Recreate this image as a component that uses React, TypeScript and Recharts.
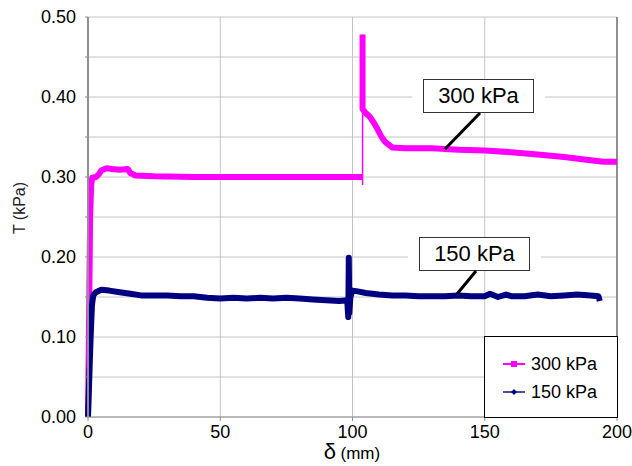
import { CartesianGrid, Line, LineChart, ReferenceLine, XAxis, YAxis } from 'recharts'

// displacement (mm) and shear stress (kPa)
const delta300 = [
  0, 0.4, 0.8, 1.2, 1.6, 3, 4, 5, 7, 9, 12, 15, 16, 18, 25, 40, 60, 80, 100, 103.6,
]
const tau300 = [
  0, 0.12, 0.25, 0.29, 0.299, 0.3, 0.303, 0.308, 0.311, 0.31, 0.309, 0.31, 0.305, 0.302, 0.301, 0.3, 0.3,
  0.3, 0.3, 0.3,
]
// vertical jump at ~104 mm
const deltaJump300 = [103.8, 103.8]
const tauJump300 = [0.29, 0.478]
const deltaPost300 = [
  103.8, 103.8, 105, 106.6, 108, 109.6, 111, 112.3, 115, 120, 130, 140, 150, 160, 170, 180, 190, 195, 200,
]
const tauPost300 = [
  0.478, 0.385, 0.38, 0.375, 0.368, 0.359, 0.35, 0.344, 0.337, 0.336, 0.336, 0.334, 0.333, 0.331, 0.328,
  0.325, 0.321, 0.319, 0.319,
]

const delta150 = [
  0, 0.5, 1, 1.5, 2, 3, 5, 8, 12, 16, 20, 25, 30, 35, 40, 45, 50, 55, 60, 65, 70, 75, 80, 85, 90, 95, 98,
  98.4, 98.6, 98.8, 99.2, 100, 102, 105, 110, 115, 120, 125, 130, 135, 140, 145, 150, 152, 155, 158, 160,
  165, 170, 175, 180, 185, 190, 193, 193.5,
]
const tau150 = [
  0, 0.05, 0.1, 0.14, 0.152, 0.156, 0.159, 0.158, 0.156, 0.154, 0.152, 0.152, 0.152, 0.151, 0.151, 0.149,
  0.148, 0.149, 0.148, 0.149, 0.148, 0.149, 0.148, 0.147, 0.146, 0.145, 0.146, 0.125, 0.199, 0.13, 0.15,
  0.158, 0.157, 0.155, 0.153, 0.152, 0.152, 0.151, 0.151, 0.151, 0.152, 0.151, 0.151, 0.154, 0.15, 0.153,
  0.151, 0.151, 0.153, 0.151, 0.152, 0.153, 0.152, 0.151, 0.145,
]

const xTicks = [0, 50, 100, 150, 200]
const yTicks = [0, 0.05, 0.1, 0.15, 0.2, 0.25, 0.3, 0.35, 0.4, 0.45, 0.5]

const toPoints = (xs: number[], ys: number[]) => xs.map((d, i) => ({ d, t: ys[i] }))

const series300 = toPoints(delta300, tau300)
const jump300 = toPoints(deltaJump300, tauJump300)
const post300 = toPoints(deltaPost300, tauPost300)
const series150 = toPoints(delta150, tau150)

const PINK = '#ff00ff'
const NAVY = '#000080'
const FONT = '"Liberation Sans", Arial, sans-serif'

function LegendBox() {
  const row = (color: string, label: string, diamond: boolean) => (
    <div style={{ display: 'flex', alignItems: 'center', height: 28 }}>
      <svg width={29} height={12}>
        <line x1={1} y1={6} x2={23} y2={6} stroke={color} strokeWidth={2} opacity={diamond ? 0.7 : 1} />
        {diamond ? (
          <polygon points="12,3 15,6 12,9 9,6" fill={color} />
        ) : (
          <rect x={9} y={3} width={6} height={6} fill={color} />
        )}
      </svg>
      <span style={{ fontSize: 18, color: '#000' }}>{label}</span>
    </div>
  )
  return (
    <div
      style={{
        position: 'absolute',
        left: 484,
        top: 336,
        boxSizing: 'border-box',
        width: 134,
        height: 82,
        border: '1px solid #000',
        background: '#fff',
        paddingLeft: 17,
        paddingTop: 13,
        fontFamily: FONT,
      }}
    >
      {row(PINK, '300 kPa', false)}
      {row(NAVY, '150 kPa', true)}
    </div>
  )
}

function Callout({ left, top, label }: { left: number; top: number; label: string }) {
  return (
    <>
      <div style={{ position: 'absolute', left: left - 11, top, width: 133, height: 34, background: '#fff' }} />
      <div
        style={{
          position: 'absolute',
          left,
          top,
          width: 111,
          height: 34,
          boxSizing: 'border-box',
          border: '1px solid #333',
          background: '#fff',
          fontFamily: FONT,
          fontSize: 22,
          lineHeight: '32px',
          textAlign: 'center',
          color: '#000',
        }}
      >
        {label}
      </div>
    </>
  )
}

export default function App() {
  return (
    <div style={{ position: 'absolute', left: 0, top: 0, width: 632, height: 466, background: '#fff' }}>
      <LineChart
        width={632}
        height={466}
        margin={{ top: 17, right: 15, bottom: 19, left: 28 }}
        style={{ fontFamily: FONT }}
      >
        <CartesianGrid stroke="#c4c4c4" strokeWidth={1} />
        <XAxis
          type="number"
          dataKey="d"
          domain={[0, 200]}
          ticks={xTicks}
          height={30}
          axisLine={{ stroke: '#909090' }}
          tickLine={{ stroke: '#909090' }}
          tickSize={4}
          tickMargin={4}
          tick={{ fill: '#000', fontSize: 18 }}
        />
        <YAxis
          type="number"
          dataKey="t"
          domain={[0, 0.5]}
          ticks={yTicks}
          width={60}
          axisLine={{ stroke: '#909090', strokeWidth: 2 }}
          tickLine={{ stroke: '#909090' }}
          tickSize={3}
          tickMargin={9}
          tick={{ fill: '#000', fontSize: 18 }}
          tickFormatter={(v: number) => (Math.round(v * 100) % 10 === 0 ? v.toFixed(2) : '')}
        />
        <ReferenceLine x={200} stroke="#909090" strokeWidth={2} />
        <Line
          data={series300}
          dataKey="t"
          type="linear"
          stroke={PINK}
          strokeWidth={6}
          strokeLinejoin="round"
          dot={false}
          isAnimationActive={false}
          name="300 kPa"
        />
        <Line
          data={jump300}
          dataKey="t"
          type="linear"
          stroke={PINK}
          strokeWidth={1.5}
          dot={false}
          isAnimationActive={false}
        />
        <Line
          data={post300}
          dataKey="t"
          type="linear"
          stroke={PINK}
          strokeWidth={6}
          strokeLinejoin="round"
          dot={false}
          isAnimationActive={false}
        />
        <Line
          data={series150}
          dataKey="t"
          type="linear"
          stroke={NAVY}
          strokeWidth={6}
          strokeLinejoin="round"
          dot={false}
          isAnimationActive={false}
          name="150 kPa"
        />
      </LineChart>

      <LegendBox />
      <Callout left={423} top={79} label="300 kPa" />
      <Callout left={419} top={237} label="150 kPa" />
      <svg
        width={632}
        height={466}
        style={{ position: 'absolute', left: 0, top: 0, pointerEvents: 'none' }}
      >
        <line x1={480} y1={113} x2={445} y2={149} stroke="#000" strokeWidth={3} />
        <line x1={476} y1={271} x2={457} y2={294} stroke="#000" strokeWidth={3} />
      </svg>

      <div
        style={{
          position: 'absolute',
          left: 20,
          top: 208,
          transform: 'translate(-50%, -50%) rotate(-90deg)',
          fontFamily: FONT,
          fontSize: 16,
          color: '#222',
          whiteSpace: 'nowrap',
        }}
      >
        T (kPa)
      </div>
      <div
        style={{
          position: 'absolute',
          left: 352,
          top: 442,
          transform: 'translateX(-50%)',
          fontFamily: FONT,
          lineHeight: '20px',
          color: '#000',
          whiteSpace: 'nowrap',
        }}
      >
        <span style={{ fontSize: 22 }}>δ</span> <span style={{ fontSize: 17 }}>(mm)</span>
      </div>
    </div>
  )
}
